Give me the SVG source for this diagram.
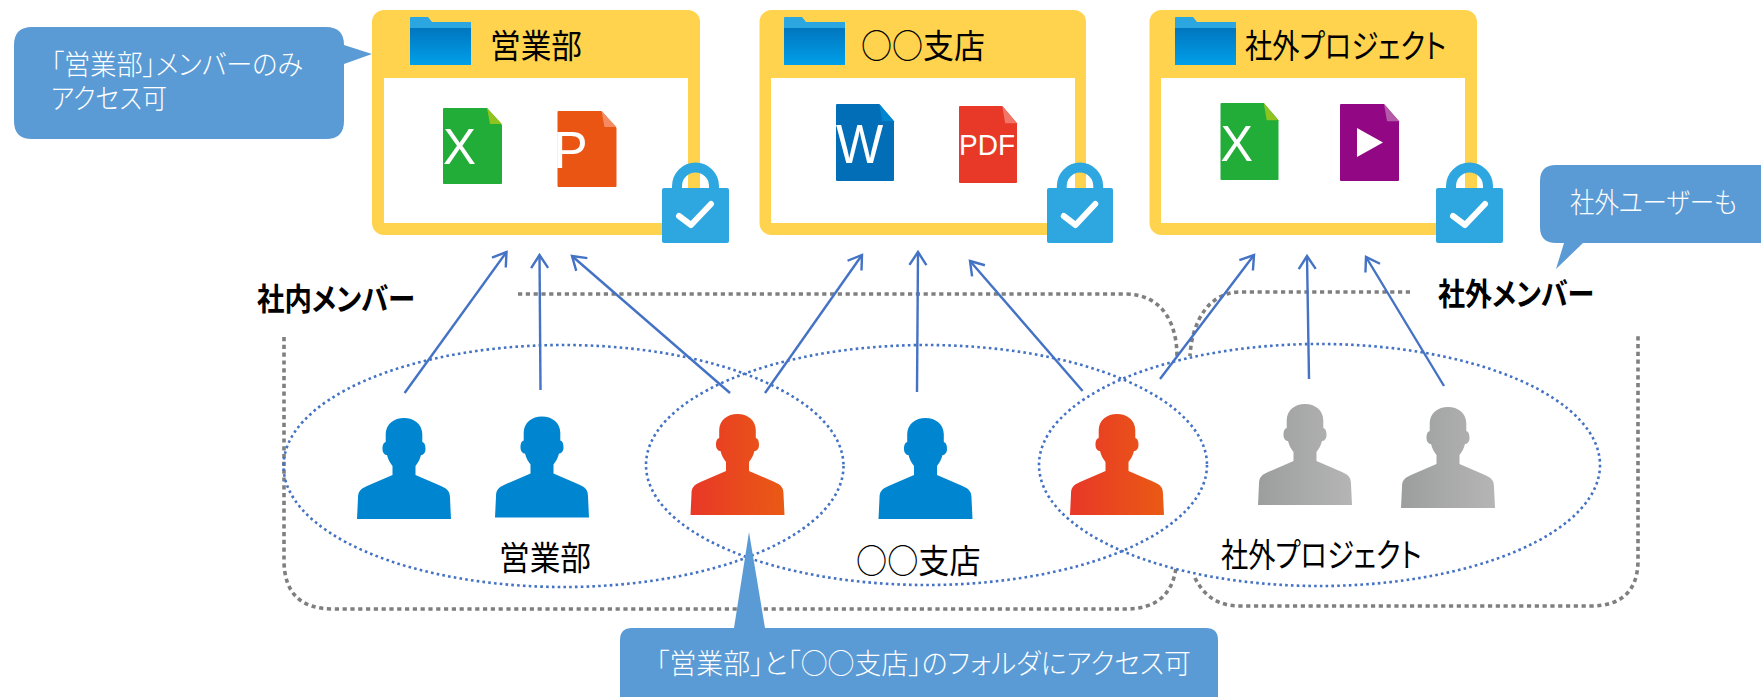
<svg xmlns="http://www.w3.org/2000/svg" xmlns:xlink="http://www.w3.org/1999/xlink" width="1761" height="697" viewBox="0 0 1761 697">
<style>
text{font-family:"Noto Sans CJK JP","Noto Sans",sans-serif;font-feature-settings:"palt"}
.label{font-size:33px;font-weight:400;fill:#000}
.note{font-size:28px;font-weight:300;fill:#fff}
.group{font-size:31px;font-weight:700;fill:#000}
.glyph{font-family:"Liberation Sans",sans-serif;fill:#fff}
.callout{fill:#5B9BD5}
.frame{fill:#FFD34D}
.inner{fill:#fff}
.arrow{fill:none;stroke:#4472C4;stroke-width:2.4;marker-end:url(#head)}
.ring{fill:none;stroke:#4472C4;stroke-width:2.6;stroke-dasharray:2.6 3.2}
.zone{fill:none;stroke:#7F7F7F;stroke-width:3.6;stroke-dasharray:4.2 3.6}
</style>
<defs>
<marker id="head" markerUnits="userSpaceOnUse" markerWidth="24" markerHeight="24" refX="20" refY="12" orient="auto">
<path d="M7 3.5 L20 12 L7 20.5" fill="none" stroke="#4472C4" stroke-width="2.4"/>
</marker>
<linearGradient id="fBody" x1="0" y1="0" x2="0" y2="1"><stop offset="0" stop-color="#0076BF"/><stop offset="1" stop-color="#00A0E9"/></linearGradient>
<linearGradient id="red" x1="0" y1="0" x2="1" y2="0"><stop offset="0" stop-color="#E83828"/><stop offset="1" stop-color="#EA5A14"/></linearGradient>
<linearGradient id="gray" x1="0" y1="0" x2="1" y2="0"><stop offset="0" stop-color="#9C9E9D"/><stop offset="1" stop-color="#B5B5B5"/></linearGradient>
<g id="folderIcon">
<path d="M0 1 Q0 0 1 0 H18 L22 5 H61 V12 H0Z" fill="#2CA6E0"/>
<rect x="0" y="11" width="61" height="37" fill="url(#fBody)"/>
</g>
<path id="person" d="M47 0 C37 0 29 6 28.7 16 L28.7 24 C26 25 25.5 28 25.5 31 C25.5 35 28 37 30 37 C31 41 33 45 35.500 48 L35.500 57 L10 68 C3 71 1 74 1 80 L0 101 H94 L93 80 C93 74 91 71 84 68 L58.500 57 L58.500 48 C61 45 63 41 64 37 C66 37 68.500 35 68.500 31 C68.500 28 68 25 65.300 24 L65.300 16 C65 6 57 0 47 0Z"/>
<path id="sheet" d="M1 0 H44 L59 17 V75 Q59 76 58 76 H1 Q0 76 0 75 V1 Q0 0 1 0Z"/>
<g id="lock">
<path d="M15 26 V23 A18.500 18.500 0 0 1 52 23 V26" fill="none" stroke="#2EA7E0" stroke-width="10"/>
<rect x="0" y="25" width="67" height="55" rx="2" fill="#2EA7E0"/>
<path d="M17 53 L29 62 L49 41" fill="none" stroke="#fff" stroke-width="6" stroke-linecap="round" stroke-linejoin="round"/>
</g>
</defs>

<g id="zones">
<path class="zone" d="M284 337 V560 Q284 609 333 609 H1125 C1155 609 1172 596 1176 568"/>
<path class="zone" d="M518 294 H1125 C1160 294 1177 320 1177 357"/>
<path class="zone" d="M1410 292 H1240 C1210 292 1192 320 1190 356"/>
<path class="zone" d="M1195 578 C1204 596 1218 606 1240 606 H1590 Q1638 606 1638 560 V333"/>
</g>

<g id="folder-sales">
<rect class="frame" x="372" y="10" width="328" height="225" rx="12"/>
<rect class="inner" x="384" y="78" width="304" height="145"/>
<use href="#folderIcon" x="410" y="17"/>
<text class="label" x="490" y="58" textLength="92" lengthAdjust="spacingAndGlyphs">営業部</text>
<g transform="translate(443 108)"><use href="#sheet" fill="#22AC38"/><path d="M44 0 L59 16 H47Z" fill="#8FC31F"/><text class="glyph" x="0" y="56" font-size="50" textLength="33" lengthAdjust="spacingAndGlyphs">X</text></g>
<g transform="translate(557.500 111)"><use href="#sheet" fill="#EA5514"/><path d="M44 0 L59 16 H47Z" fill="#F58B65"/><text class="glyph" x="-4.500" y="57" font-size="52">P</text></g>
<use href="#lock" x="662" y="163"/>
</g>

<g id="folder-branch">
<rect class="frame" x="759.500" y="10" width="326.500" height="225" rx="12"/>
<rect class="inner" x="771" y="78" width="304" height="145"/>
<use href="#folderIcon" x="784" y="17"/>
<text class="label" x="861" y="58" textLength="124" lengthAdjust="spacingAndGlyphs">○○支店</text>
<g transform="translate(836 104) scale(.983 1.013)"><use href="#sheet" fill="#036EB8"/><path d="M44 0 L59 17 H47Z" fill="#0086D1"/><text class="glyph" x="0" y="58" font-size="54" textLength="48" lengthAdjust="spacingAndGlyphs">W</text></g>
<g transform="translate(959 106) scale(.983 1.013)"><use href="#sheet" fill="#E83828"/><path d="M44 0 L59 17 H47Z" fill="#F2756A"/><text class="glyph" x="0" y="48" font-size="30" textLength="57" lengthAdjust="spacingAndGlyphs">PDF</text></g>
<use href="#lock" x="1047" y="163" transform="translate(1047 0) scale(.985 1) translate(-1047 0)"/>
</g>

<g id="folder-project">
<rect class="frame" x="1149.500" y="10" width="327.500" height="225" rx="12"/>
<rect class="inner" x="1161" y="78" width="304" height="145"/>
<use href="#folderIcon" x="1175" y="17"/>
<text class="label" x="1245" y="58" textLength="201" lengthAdjust="spacingAndGlyphs">社外プロジェクト</text>
<g transform="translate(1220.500 103) scale(.983 1.013)"><use href="#sheet" fill="#22AC38"/><path d="M44 0 L59 17 H47Z" fill="#8FC31F"/><text class="glyph" x="0" y="57" font-size="50" textLength="33" lengthAdjust="spacingAndGlyphs">X</text></g>
<g transform="translate(1340 104) scale(1 1.013)"><use href="#sheet" fill="#920783"/><path d="M44 0 L59 17 H47Z" fill="#B55AA8"/></g>
<path d="M1357 128 L1383 142.500 L1357 157Z" fill="#fff"/>
<use href="#lock" x="1436" y="163"/>
</g>

<g id="rings">
<ellipse class="ring" cx="563.500" cy="466" rx="280" ry="121"/>
<ellipse class="ring" cx="926.500" cy="465" rx="280.500" ry="120"/>
<ellipse class="ring" cx="1319.500" cy="465" rx="280.500" ry="121"/>
</g>

<g id="connectors">
<line class="arrow" x1="404.600" y1="393" x2="506.500" y2="252"/>
<line class="arrow" x1="540.500" y1="390" x2="539.500" y2="255"/>
<line class="arrow" x1="730" y1="393" x2="572" y2="256"/>
<line class="arrow" x1="765" y1="393" x2="862" y2="255"/>
<line class="arrow" x1="917" y1="392" x2="918" y2="252"/>
<line class="arrow" x1="1082.600" y1="391" x2="970" y2="261"/>
<line class="arrow" x1="1160" y1="379" x2="1254" y2="255"/>
<line class="arrow" x1="1309" y1="379" x2="1307" y2="256"/>
<line class="arrow" x1="1444" y1="386" x2="1366" y2="257"/>
</g>

<g id="member-1"><use href="#person" transform="translate(357 418)" fill="#0086D1"/></g>
<g id="member-2"><use href="#person" transform="translate(495 416.500)" fill="#0086D1"/></g>
<g id="member-3"><use href="#person" transform="translate(690.500 414)" fill="url(#red)"/></g>
<g id="member-4"><use href="#person" transform="translate(878.500 418)" fill="#0086D1"/></g>
<g id="member-5"><use href="#person" transform="translate(1070 414)" fill="url(#red)"/></g>
<g id="member-6"><use href="#person" transform="translate(1258 404)" fill="url(#gray)"/></g>
<g id="member-7"><use href="#person" transform="translate(1401 407)" fill="url(#gray)"/></g>

<g id="group-labels">
<text class="label" x="499" y="570" textLength="92" lengthAdjust="spacingAndGlyphs">営業部</text>
<text class="label" x="856" y="573" textLength="124.500" lengthAdjust="spacingAndGlyphs">○○支店</text>
<text class="label" x="1221" y="567" textLength="200.500" lengthAdjust="spacingAndGlyphs">社外プロジェクト</text>
<text class="group" x="257" y="310" textLength="158" lengthAdjust="spacingAndGlyphs">社内メンバー</text>
<text class="group" x="1438" y="305" textLength="156" lengthAdjust="spacingAndGlyphs">社外メンバー</text>
</g>

<g id="callout-sales">
<path class="callout" d="M32 27 H326 Q344 27 344 45 L372 54 L344 64 V121 Q344 139 326 139 H32 Q14 139 14 121 V45 Q14 27 32 27Z"/>
<text class="note" x="51" y="75" textLength="252" lengthAdjust="spacingAndGlyphs">「営業部」メンバーのみ</text>
<text class="note" x="51" y="109" textLength="116" lengthAdjust="spacingAndGlyphs">アクセス可</text>
</g>
<g id="callout-external">
<path class="callout" d="M1556 165 H1761 V243 H1583 L1556 269 L1564 243 H1556 Q1540 243 1540 227 V181 Q1540 165 1556 165Z"/>
<text class="note" x="1570" y="213" textLength="167" lengthAdjust="spacingAndGlyphs">社外ユーザーも</text>
</g>
<g id="callout-both">
<path class="callout" d="M632 628 H734 L749 532 L765 628 H1206 Q1218 628 1218 640 V697 H620 V640 Q620 628 632 628Z"/>
<text class="note" x="656" y="674" textLength="535" lengthAdjust="spacingAndGlyphs">「営業部」と「○○支店」のフォルダにアクセス可</text>
</g>
</svg>
